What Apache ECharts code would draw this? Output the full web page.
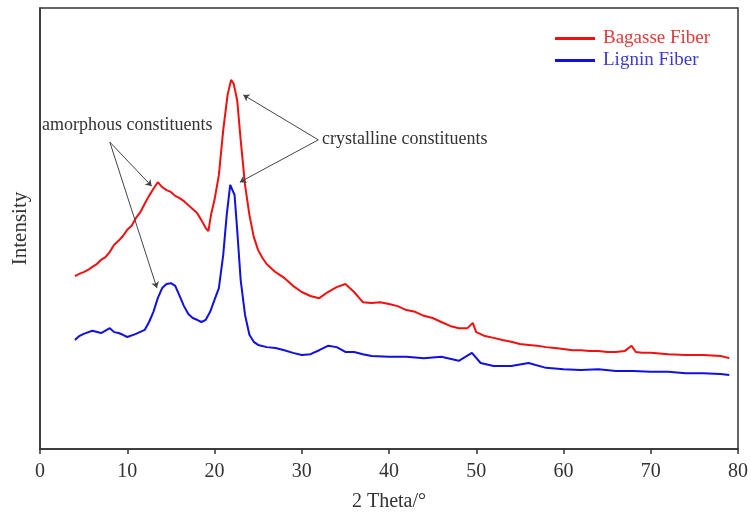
<!DOCTYPE html>
<html>
<head>
<meta charset="utf-8">
<script src="https://cdn.jsdelivr.net/npm/echarts@6/dist/echarts.min.js"></script>
<style>html,body{margin:0;padding:0;background:#fff}#c{width:751px;height:513px}</style>
</head>
<body>
<div id="c"></div>
<script>
var xTicks = [0, 10, 20, 30, 40, 50, 60, 70, 80];
var seriesNames = ['Bagasse Fiber', 'Lignin Fiber'];
var bagasseX = [4.0,4.5,5.0,5.5,6.0,6.5,7.0,7.5,8.0,8.5,9.0,9.5,10.0,10.5,11.0,11.5,12.0,12.5,13.0,13.5,14.0,14.5,15.0,15.5,16.0,16.5,17.0,17.5,18.0,18.5,19.0,19.3,19.6,20.0,20.5,21.0,21.5,21.9,22.2,22.6,23.0,23.5,24.0,24.5,25.0,25.5,26.0,27.0,28.0,29.0,30.0,31.0,32.0,33.0,34.0,35.0,36.0,37.0,38.0,39.0,40.0,41.0,42.0,43.0,44.0,45.0,46.0,47.0,48.0,49.0,49.6,50.0,51.0,52.0,53.0,54.0,55.0,56.0,57.0,58.0,59.0,60.0,61.0,62.0,63.0,64.0,65.0,66.0,67.0,67.8,68.3,69.0,70.0,72.0,74.0,76.0,78.0,79.0];
var bagasseY = [39.2,39.7,40.1,40.6,41.3,41.9,42.9,43.5,44.7,46.3,47.2,48.3,49.7,50.6,52.4,53.7,55.6,57.4,59.0,60.5,59.4,58.7,58.3,57.4,56.9,56.2,55.3,54.4,53.5,51.9,50.1,49.4,53.1,56.5,62.1,72.3,80.3,83.7,82.8,79.1,70.1,59.9,53.1,48.1,45.1,43.3,41.9,40.1,38.8,37.0,35.6,34.7,34.2,35.6,36.7,37.4,35.6,33.3,33.1,33.3,32.9,32.4,31.5,31.1,30.2,29.7,28.8,27.9,27.4,27.4,28.6,26.5,25.6,25.2,24.7,24.3,23.8,23.6,23.4,23.1,22.9,22.7,22.4,22.4,22.2,22.2,22.0,22.0,22.2,23.4,22.0,21.8,21.8,21.5,21.3,21.3,21.1,20.6];
var ligninX = [4.0,4.5,5.0,6.0,7.0,8.0,8.5,9.0,9.5,10.0,11.0,12.0,12.5,13.0,13.5,14.0,14.5,15.0,15.5,16.0,16.5,17.0,17.5,18.0,18.5,19.0,19.5,20.0,20.5,21.0,21.4,21.8,22.0,22.3,22.6,23.0,23.5,24.0,24.5,25.0,26.0,27.0,28.0,29.0,30.0,31.0,32.0,33.0,34.0,35.0,36.0,37.0,38.0,40.0,42.0,44.0,46.0,48.0,49.5,50.5,52.0,54.0,56.0,58.0,60.0,62.0,64.0,66.0,68.0,70.0,72.0,74.0,76.0,78.0,79.0];
var ligninY = [24.7,25.6,26.1,26.8,26.3,27.4,26.5,26.3,25.9,25.4,26.1,27.0,28.8,31.1,34.2,36.5,37.4,37.6,37.0,34.7,32.4,30.6,29.7,29.3,28.8,29.3,31.1,33.8,36.5,44.0,53.1,59.9,60.3,57.6,49.7,38.3,30.4,25.9,24.3,23.6,23.1,22.9,22.4,21.8,21.3,21.5,22.4,23.4,23.1,22.0,22.0,21.5,21.1,20.9,20.9,20.6,20.9,20.0,21.8,19.5,18.8,18.8,19.5,18.4,18.1,17.9,18.1,17.7,17.7,17.5,17.5,17.2,17.2,17.0,16.8];
var annotations = ['amorphous constituents', 'crystalline constituents'];

function pairs(xs, ys) { return xs.map(function (x, i) { return [x, ys[i]]; }); }
var serif = 'Liberation Serif, Times New Roman, serif';
var arrowStyle = { color: '#444', width: 1, type: 'solid' };
var chart = echarts.init(document.getElementById('c'));
chart.setOption({
  animation: false,
  backgroundColor: '#fff',
  grid: { left: 40, right: 13, top: 8, bottom: 64, show: true, borderColor: '#333', borderWidth: 1.5,
          containLabel: false, outerBoundsMode: 'none' },
  legend: {
    left: 550, top: 24, orient: 'vertical', itemWidth: 40, itemHeight: 3, itemGap: 3,
    icon: 'rect',
    data: [
      { name: seriesNames[0], textStyle: { color: '#e03a3a' } },
      { name: seriesNames[1], textStyle: { color: '#3a3ad0' } }
    ],
    textStyle: { fontFamily: serif, fontSize: 19, padding: [0, 0, 0, 3] }
  },
  xAxis: {
    type: 'value', min: 0, max: 80, interval: 10,
    name: '2 Theta/°', nameLocation: 'middle', nameGap: 43,
    nameTextStyle: { fontFamily: serif, fontSize: 20, color: '#333' },
    axisLine: { lineStyle: { color: '#333', width: 1.5 } },
    axisTick: { length: 5, lineStyle: { color: '#333', width: 1.5 } },
    axisLabel: { fontFamily: serif, fontSize: 20, color: '#333', margin: 13 },
    splitLine: { show: false }
  },
  yAxis: {
    type: 'value', min: 0, max: 100,
    name: 'Intensity', nameLocation: 'middle', nameGap: 9,
    nameTextStyle: { fontFamily: serif, fontSize: 21, color: '#333' },
    axisLine: { show: true, lineStyle: { color: '#333', width: 1.5 } },
    axisTick: { show: false }, axisLabel: { show: false }, splitLine: { show: false }
  },
  graphic: [
    { type: 'text', left: 42, top: 116, style: { text: annotations[0], fontFamily: serif, fontSize: 18, fill: '#333' } },
    { type: 'text', left: 322, top: 130, style: { text: annotations[1], fontFamily: serif, fontSize: 18, fill: '#333' } }
  ],
  series: [
    {
      name: seriesNames[0], type: 'line', showSymbol: false, data: pairs(bagasseX, bagasseY),
      lineStyle: { color: '#f01010', width: 2 }, itemStyle: { color: '#f01010' },
      markLine: {
        silent: true, symbol: ['none', 'arrow'], symbolSize: 6, label: { show: false }, lineStyle: arrowStyle,
        data: [
          [{ coord: [8.0, 69.6] }, { coord: [12.8, 59.6] }],
          [{ coord: [8.0, 69.6] }, { coord: [13.4, 36.5] }],
          [{ coord: [31.9, 70.1] }, { coord: [23.3, 80.3] }],
          [{ coord: [31.9, 70.1] }, { coord: [22.9, 60.5] }]
        ]
      }
    },
    {
      name: seriesNames[1], type: 'line', showSymbol: false, data: pairs(ligninX, ligninY),
      lineStyle: { color: '#1010e0', width: 2 }, itemStyle: { color: '#1010e0' }
    }
  ]
});
</script>
</body>
</html>
